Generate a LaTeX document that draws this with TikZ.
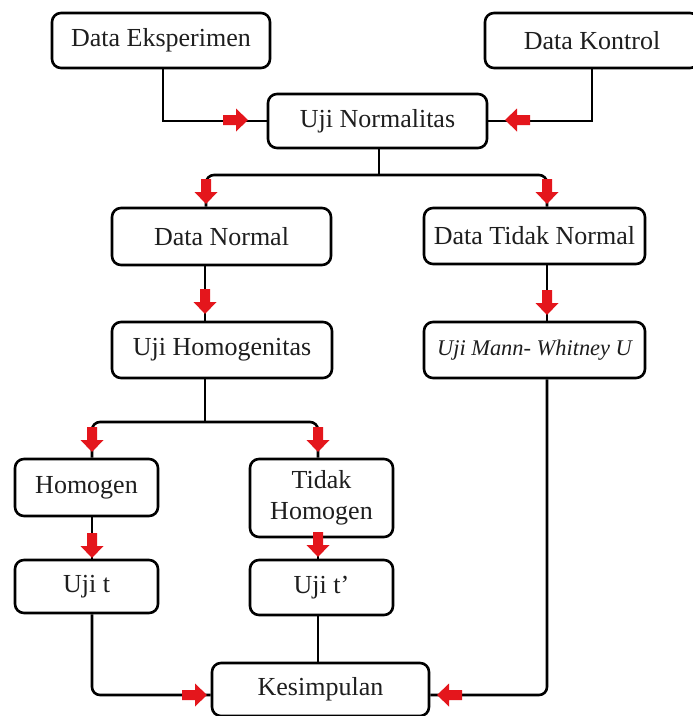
\documentclass[tikz,border=0pt]{standalone}
\usepackage{fontspec}
\setmainfont{Liberation Serif}
\definecolor{arrred}{RGB}{228,22,28}
\definecolor{txt}{RGB}{30,30,30}
\begin{document}
\begin{tikzpicture}[x=1pt,y=-1pt,
  box/.style={draw=black, line width=2.6pt, rounded corners=9pt, fill=white, inner sep=0pt,
    align=center, font=\fontsize{26}{31}\selectfont, text=txt},
  conn/.style={line width=2.6pt, draw=black},
  redarr/.pic={\fill[arrred] (0,0) -- (-12,11.5) -- (-12,5) -- (-25,5) -- (-25,-5) -- (-12,-5) -- (-12,-11.5) -- cycle;}]
\useasboundingbox (0,0) rectangle (693,716);
\fill[white] (0,0) rectangle (693,716);

% nodes
\node[box, minimum width=218pt, minimum height=55pt] (eks) at (161,40.5) {Data Eksperimen};
\node[box, minimum width=214pt, minimum height=55pt] (kon) at (592,40.5) {Data Kontrol};
\node[box, minimum width=219pt, minimum height=54pt] (norm) at (377.5,121) {Uji Normalitas};
\node[box, minimum width=219pt, minimum height=57pt] (dn) at (221.5,236.5) {Data Normal};
\node[box, minimum width=221pt, minimum height=56pt] (dtn) at (534.5,236) {Data Tidak Normal};
\node[box, minimum width=220pt, minimum height=56pt] (hom) at (222,350) {Uji Homogenitas};
\node[box, minimum width=221pt, minimum height=56pt, font=\fontsize{22.4}{26}\selectfont\itshape] (mw) at (534.5,350) {Uji Mann- Whitney U};
\node[box, minimum width=143pt, minimum height=57pt] (homo) at (86.5,487.5) {Homogen};
\node[box, minimum width=143pt, minimum height=78pt] (thom) at (321.5,498) {Tidak\\Homogen};
\node[box, minimum width=143pt, minimum height=53pt] (ujit) at (86.5,586.5) {Uji t};
\node[box, minimum width=143pt, minimum height=55pt] (ujit2) at (321.5,587.5) {Uji t’};
\node[box, minimum width=217pt, minimum height=53pt] (kes) at (320.5,689.5) {Kesimpulan};

% helper coordinates
\coordinate (xa) at (163,0);
\coordinate (xk) at (592,0);
\coordinate (xn) at (379,0);
\coordinate (xl) at (206,0);
\coordinate (xr) at (547,0);
\coordinate (xh) at (205,0);
\coordinate (xp) at (92,0);
\coordinate (xq) at (318,0);
\coordinate (yb1) at (0,175);
\coordinate (yb2) at (0,422);
\coordinate (yk) at (0,695);

% connectors
\draw[conn] (eks.south -| xa) |- (norm.west);
\draw[conn] (kon.south -| xk) |- (norm.east);
\draw[conn] (norm.south -| xn) -- (xn |- yb1);
\draw[conn, rounded corners=8pt] (dn.north -| xl) -- (xl |- yb1) -- (xr |- yb1) -- (dtn.north -| xr);
\draw[conn] (dn.south -| xh) -- (hom.north -| xh);
\draw[conn] (dtn.south -| xr) -- (mw.north -| xr);
\draw[conn] (hom.south -| xh) -- (xh |- yb2);
\draw[conn, rounded corners=8pt] (homo.north -| xp) -- (xp |- yb2) -- (xq |- yb2) -- (thom.north -| xq);
\draw[conn] (homo.south -| xp) -- (ujit.north -| xp);
\draw[conn] (thom.south -| xq) -- (ujit2.north -| xq);
\draw[conn, rounded corners=8pt] (ujit.south -| xp) -- (xp |- yk) -- (kes.west |- yk);
\draw[conn] (ujit2.south -| xq) -- (kes.north -| xq);
\draw[conn, rounded corners=8pt] (mw.south -| xr) -- (xr |- yk) -- (kes.east |- yk);

% red arrows
\pic at (248,120) {redarr};
\pic[rotate=180] at (505,120) {redarr};
\pic[rotate=-90] at (206,204) {redarr};
\pic[rotate=-90] at (547,204) {redarr};
\pic[rotate=-90] at (205,314) {redarr};
\pic[rotate=-90] at (547,315) {redarr};
\pic[rotate=-90] at (92,452) {redarr};
\pic[rotate=-90] at (318,452) {redarr};
\pic[rotate=-90] at (92,558) {redarr};
\pic[rotate=-90] at (318,557) {redarr};
\pic at (207,695) {redarr};
\pic[rotate=180] at (437,695) {redarr};
\end{tikzpicture}
\end{document}
